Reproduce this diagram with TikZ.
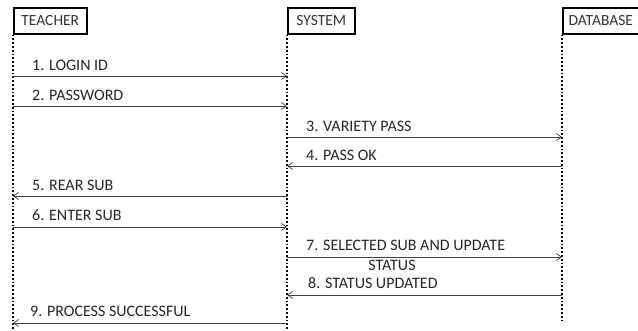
\documentclass[tikz,border=0pt]{standalone}
\usepackage{fontspec}
\setmainfont{Carlito}
\usetikzlibrary{arrows.meta}
\begin{document}
\begin{tikzpicture}[x=1pt,y=-1pt,
  actor/.style={draw=black,line width=1.6pt,anchor=north west,minimum height=26pt,inner sep=2pt,font=\fontsize{15.5}{17}\selectfont,text=black!80},
  life/.style={line width=1.8pt,dotted,black},
  msg/.style={draw=black!75,line width=0.7pt,-{Straight Barb[length=5pt,width=7pt]}},
  lbl/.style={anchor=base west,font=\fontsize{16}{17}\selectfont,text=black!85,inner sep=0pt}]
\useasboundingbox (0,0) rectangle (638,331);
\node[actor,minimum width=73pt] (t) at (13,7) {TEACHER};
\node[actor,minimum width=67pt] (s) at (287,7) {SYSTEM};
\node[actor,minimum width=76pt] (d) at (562,7) {DATABASE};
\coordinate (tb) at (13,331);
\coordinate (sb) at (287,331);
\coordinate (db) at (562,323);
\draw[life] (t.south west) -- (tb);
\draw[life] (s.south west) -- (sb);
\draw[life] (d.south west) -- (db);
% messages
\foreach \n/\y in {1/76,2/106,3/137,4/166,5/196,6/227,7/257,8/295,9/323}{
  \coordinate (tl\n) at (13,\y);
  \coordinate (sl\n) at (287,\y);
  \coordinate (dl\n) at (562,\y);
}
\draw[msg] (tl1) -- (sl1);
\node[lbl] (m1) at (32,71) {1. LOGIN ID};
\draw[msg] (tl2) -- (sl2);
\node[lbl] (m2) at (32,101) {2. PASSWORD};
\draw[msg] (sl3) -- (dl3);
\node[lbl] (m3) at (306,132) {3. VARIETY PASS};
\draw[msg] (dl4) -- (sl4);
\node[lbl] (m4) at (306,161) {4. PASS OK};
\draw[msg] (sl5) -- (tl5);
\node[lbl] (m5) at (32,191) {5. REAR SUB};
\draw[msg] (tl6) -- (sl6);
\node[lbl] (m6) at (32,221) {6. ENTER SUB};
\draw[msg] (sl7) -- (dl7);
\node[lbl] (m7) at (306,251) {7. SELECTED SUB AND UPDATE};
\node[lbl,anchor=base] (m7b) at (392,271) {STATUS};
\draw[msg] (dl8) -- (sl8);
\node[lbl] (m8) at (308,289) {8. STATUS UPDATED};
\draw[msg] (sl9) -- (tl9);
\node[lbl] (m9) at (30,317) {9. PROCESS SUCCESSFUL};
\end{tikzpicture}
\end{document}
